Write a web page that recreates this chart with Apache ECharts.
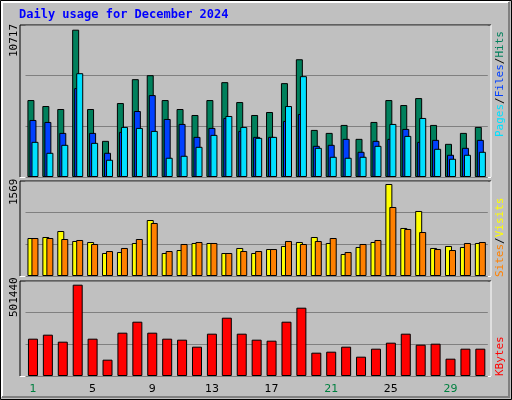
<!DOCTYPE html>
<html><head><meta charset="utf-8">
<script src="https://cdn.jsdelivr.net/npm/echarts@6/dist/echarts.min.js"></script>
<style>html,body{margin:0;padding:0;background:#c0c0c0}#c{width:512px;height:400px}</style>
</head><body><div id="c"></div>
<script>
const days = ['1','2','3','4','5','6','7','8','9','10','11','12','13','14','15','16','17','18','19','20','21','22','23','24','25','26','27','28','29','30','31'];
const weekendDays = ['1','7','8','14','15','21','22','28','29'];
const hits  = [5598,5164,4947,10717,4947,2630,5381,7118,7408,5598,4947,4512,5598,6901,5453,4512,4729,6829,8566,3426,3209,3788,2775,4006,5598,5236,5743,3788,2413,3209,3644];
const files = [4150,4006,3209,6467,3209,1761,3282,4802,5960,4223,3861,2920,3571,4295,3354,2920,2920,4078,4585,2268,2341,2775,1834,2630,2775,3499,2558,2703,1617,2123,2703];
const pages = [2558,1761,2341,7553,2485,1255,3644,3571,3354,1400,1544,2196,3065,4440,3644,2847,2920,5164,7336,2123,1472,1400,1472,2268,3861,2992,4295,2051,1327,1617,1834];
const visits= [648,665,767,597,580,392,409,563,955,392,443,563,563,392,478,392,460,512,580,665,563,375,495,580,1569,819,1109,478,512,495,563];
const sites = [648,648,631,614,546,426,478,631,904,426,546,580,563,392,426,426,460,597,546,597,648,409,546,614,1177,802,750,460,443,563,580];
const kbytes= [204960,226920,188490,501440,204960,89670,237900,298290,237900,204960,199470,161040,232410,320250,232410,199470,193980,298290,375150,128100,133590,161040,106140,150060,183000,232410,172020,177510,95160,150060,150060];
const maxLabels = ['10717','1569','501440'];
const title = 'Daily usage for December 2024';

const C = {hits:'#00805c',files:'#0040ff',pages:'#00e0ff',visits:'#ffff00',sites:'#ff8000',kb:'#ff0000'};
const mono = 'DejaVu Sans Mono';
const tops = [25,181,281], heights=[152,95,95];
const maxes = [Math.max(...hits), Math.max(...visits), Math.max(...kbytes)];
const axMax = [maxes[0]*152/147.3, maxes[1]*95/92, maxes[2]*95/91.3];
const grids = tops.map((t,i)=>({left:25.5,right:24.2,top:t,height:heights[i]}));
const xAxes = grids.map((g,i)=>({type:'category',gridIndex:i,data:days,boundaryGap:true,
  axisLine:{show:false},axisTick:{show:false},
  axisLabel:{show:i===2,margin:8,fontFamily:'DejaVu Sans',fontSize:11,
    formatter:v=>weekendDays.includes(v)?'{w|'+v+'}':'{n|'+v+'}',
    rich:{w:{color:'#008040',fontFamily:'DejaVu Sans',fontSize:11},n:{color:'#000',fontFamily:'DejaVu Sans',fontSize:11}}}}));
const yAxes = grids.map((g,i)=>({type:'value',gridIndex:i,min:0,max:axMax[i],interval:axMax[i]/3,
  axisLabel:{show:false},axisLine:{show:false},axisTick:{show:false},
  splitLine:{lineStyle:{color:'#808080',width:1}}}));
const bs = {borderColor:'#000',borderWidth:1};
const bar = (name,data,color,gi,w,gap)=>({type:'bar',name,data,xAxisIndex:gi,yAxisIndex:gi,barWidth:w,barGap:gap,
  itemStyle:Object.assign({color},bs),animation:false});
const series = [
  bar('Hits',hits,C.hits,0,7,'-71%'),bar('Files',files,C.files,0,7,'-71%'),bar('Pages',pages,C.pages,0,7,'-71%'),
  bar('Visits',visits,C.visits,1,7,'-43%'),bar('Sites',sites,C.sites,1,7,'-43%'),
  bar('KBytes',kbytes,C.kb,2,10,'0%')
];
const frames = tops.map((t,i)=>({type:'group',children:[
  {type:'line',shape:{x1:20,y1:t,x2:491,y2:t},style:{stroke:'#000',lineWidth:1}},
  {type:'line',shape:{x1:20,y1:t,x2:20,y2:t+heights[i]},style:{stroke:'#000',lineWidth:1}},
  {type:'line',shape:{x1:20,y1:t+heights[i]+0.5,x2:491,y2:t+heights[i]+0.5},style:{stroke:'#fff',lineWidth:1}},
  {type:'line',shape:{x1:491,y1:t,x2:491,y2:t+heights[i]},style:{stroke:'#fff',lineWidth:1}}
]}));
const rot = (x,y,rich,text)=>({type:'text',x,y,rotation:Math.PI/2,z:10,
  style:{text,rich,font:'11px '+mono,textAlign:'left',textVerticalAlign:'middle',fill:'#000'}});
const graphics = [
  {type:'rect',shape:{x:0.5,y:0.5,width:511,height:399},style:{fill:'#c0c0c0',stroke:'#000',lineWidth:1},z:-10},
  {type:'polyline',shape:{points:[[2,397],[2,2],[509,2]]},style:{stroke:'#fff',lineWidth:2,fill:null},z:-9},
  {type:'polyline',shape:{points:[[509,2],[509,397],[2,397]]},style:{stroke:'#808080',lineWidth:2,fill:null},z:-9},
  ...frames,
  {type:'text',x:19,y:15,style:{text:title,font:'bold 12px '+mono,fill:'#0000ff',textVerticalAlign:'middle'}},
  rot(14,57,{},maxLabels[0]),
  rot(14,205,{},maxLabels[1]),
  rot(14,317,{},maxLabels[2]),
  rot(500,137,{p:{fill:C.pages,font:'11px '+mono},f:{fill:C.files,font:'11px '+mono},h:{fill:C.hits,font:'11px '+mono},s:{fill:'#000',font:'11px '+mono}},
    '{p|Pages}{s|/}{f|Files}{s|/}{h|Hits}'),
  rot(500,277,{a:{fill:C.sites,font:'11px '+mono},b:{fill:C.visits,font:'11px '+mono},s:{fill:'#000',font:'11px '+mono}},'{a|Sites}{s|/}{b|Visits}'),
  rot(500,376,{k:{fill:C.kb,font:'11px '+mono}},'{k|KBytes}')
];
const chart = echarts.init(document.getElementById('c'));
chart.setOption({backgroundColor:'#c0c0c0',animation:false,grid:grids,xAxis:xAxes,yAxis:yAxes,series,graphic:graphics});
</script></body></html>
